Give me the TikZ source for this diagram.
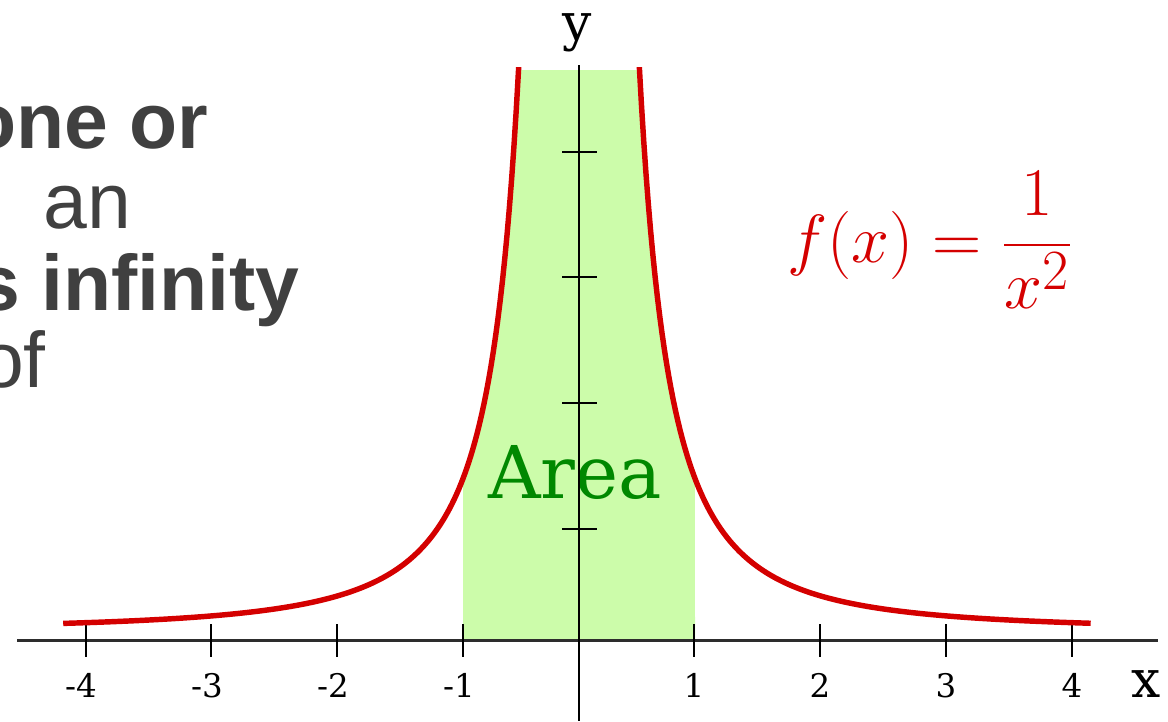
\documentclass[tikz,border=0pt]{standalone}
\usepackage[no-math]{fontspec}
\newfontfamily\dvserif{DejaVu Serif}
\newfontfamily\arialfont{Liberation Sans}
\definecolor{curvered}{RGB}{212,0,0}
\definecolor{areagreen}{RGB}{204,252,170}
\definecolor{areatext}{RGB}{0,136,0}
\definecolor{slidegray}{RGB}{64,64,64}
\definecolor{axisgray}{RGB}{45,45,45}
\tikzset{
  axisline/.style={draw=axisgray,line width=1.7pt},
  tickmark/.style={draw=black,line width=1.3pt},
  curveline/.style={draw=curvered,line width=3.1pt},
  ticklabel/.style={inner sep=0pt,anchor=base,font=\dvserif\fontsize{18.5}{20}\selectfont},
  axislabel/.style={inner sep=0pt,anchor=base,font=\dvserif\fontsize{29.5}{32}\selectfont},
  slidebold/.style={inner sep=0pt,text=slidegray,font=\arialfont\bfseries\fontsize{44.8}{50}\selectfont},
  slidereg/.style={inner sep=0pt,text=slidegray,font=\arialfont\fontsize{44.8}{50}\selectfont}
}
\begin{document}
\begin{tikzpicture}[x=0.02cm,y=-0.02cm]
\useasboundingbox (0,0) rectangle (1168,721);
% shaded area
\begin{scope}
  \clip (0,70) rectangle (1168,640);
  \fill[areagreen] (463,640)
    -- plot[domain=-0.922:-0.45,samples=80] ({579+125.8*\x},{631.1-129.7/(\x*\x)})
    -- plot[domain=0.45:0.922,samples=80] ({579+125.8*\x},{631.1-129.7/(\x*\x)})
    -- (695,640) -- cycle;
\end{scope}
\node[inner sep=0pt,anchor=base,text=areatext,font=\dvserif\fontsize{41.4}{46}\selectfont] (area) at (575,498) {Area};
% axes
\coordinate (xl) at (17,640);
\coordinate (xr) at (1158,640);
\coordinate (yt) at (579,65);
\coordinate (yb) at (579,721);
\draw[axisline] (xl) -- (xr);
\draw[tickmark,line width=1.4pt] (yt) -- (yb);
% x ticks
\foreach \p in {86,211,337,463,694,820,946,1072}{
  \draw[tickmark] (\p,624) -- (\p,657);
}
% y ticks
\foreach \q in {529,403,277,152}{
  \draw[tickmark] (562,\q) -- (597,\q);
}
% tick labels
\node[ticklabel] (lm4) at (81,697) {-4};
\node[ticklabel] (lm3) at (207,697) {-3};
\node[ticklabel] (lm2) at (333,697) {-2};
\node[ticklabel] (lm1) at (459,697) {-1};
\node[ticklabel] (lp1) at (694,697) {1};
\node[ticklabel] (lp2) at (820,697) {2};
\node[ticklabel] (lp3) at (946,697) {3};
\node[ticklabel] (lp4) at (1072,697) {4};
\node[axislabel] (xlab) at (1146,697) {x};
\node[axislabel] (ylab) at (577,40) {y};
% curve
\begin{scope}
  \clip (0,67) rectangle (1168,721);
  \draw[curveline] plot[domain=-4.1:-0.46,samples=200] ({579+125.8*\x},{631.1-129.7/(\x*\x)});
  \draw[curveline] plot[domain=0.46:4.07,samples=200] ({579+125.8*\x},{631.1-129.7/(\x*\x)});
\end{scope}
% formula
\node[inner sep=0pt,anchor=base west,text=curvered,scale=1.56,font=\fontsize{24.88}{28}\selectfont] (formula) at (787,262) {$\displaystyle f(x)=\frac{1}{x^2}$};
% slide text (cut off at the left edge)
\node[slidebold,anchor=base east] (t1) at (209,148) {one or};
\node[slidereg,anchor=base west] (t2) at (43,228) {an};
\node[slidebold,anchor=base east] (t3) at (300,310) {s infinity};
\node[slidereg,anchor=base east] (t4) at (46,387) {of};
\end{tikzpicture}
\end{document}
